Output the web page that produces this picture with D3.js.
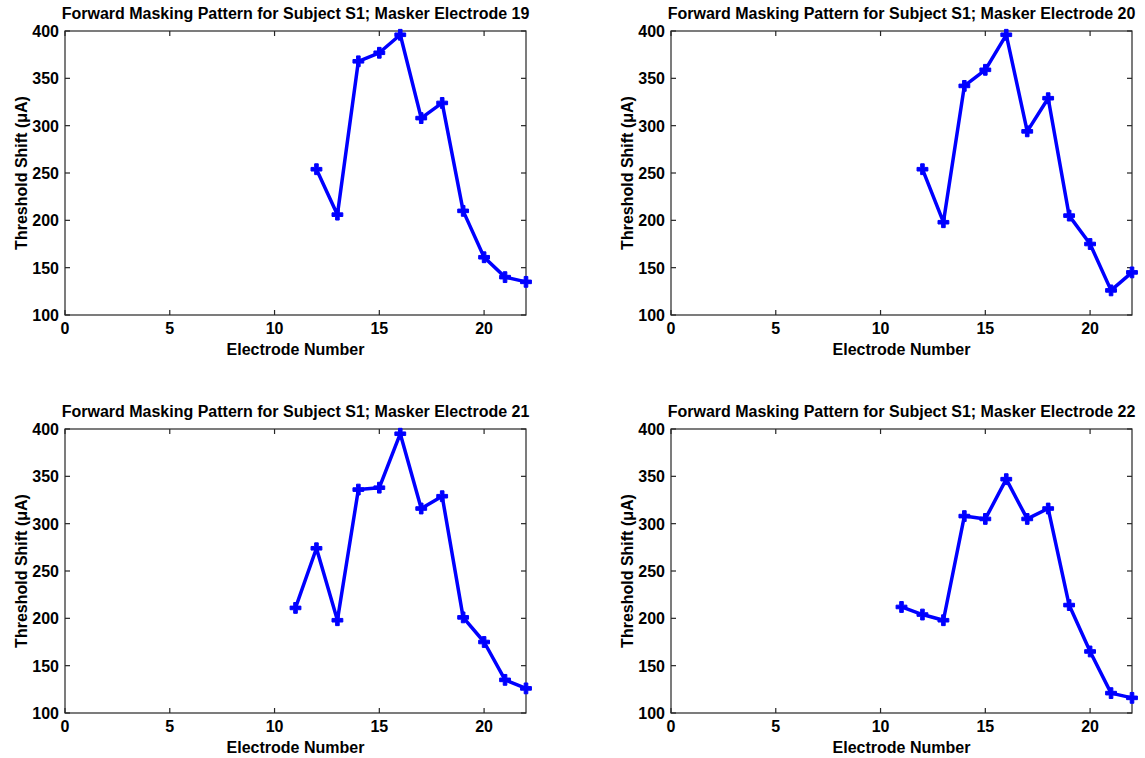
<!DOCTYPE html>
<html>
<head>
<meta charset="utf-8">
<script src="https://cdn.jsdelivr.net/npm/d3@7"></script>
<style>
  body { margin: 0; background: #fff; }
  svg text { font-family: "Liberation Sans", Arial, Helvetica, sans-serif; font-weight: bold; fill: #000; }
</style>
</head>
<body>
<svg id="chart" width="1145" height="758"></svg>
<script>
// masker electrodes, one panel each
const maskers = [19, 20, 21, 22];

// probe electrodes and threshold shifts (uA)
const probes19 = [12, 13, 14, 15, 16, 17, 18, 19, 20, 21, 22];
const shift19 = [254, 206, 368, 377, 396, 308, 324, 210, 161, 140, 135];

const probes20 = [12, 13, 14, 15, 16, 17, 18, 19, 20, 21, 22];
const shift20 = [254, 198, 342, 359, 396, 294, 329, 205, 175, 126, 145];

const probes21 = [11, 12, 13, 14, 15, 16, 17, 18, 19, 20, 21, 22];
const shift21 = [211, 274, 198, 336, 338, 395, 316, 329, 201, 175, 135, 126];

const probes22 = [11, 12, 13, 14, 15, 16, 17, 18, 19, 20, 21, 22];
const shift22 = [212, 204, 198, 308, 305, 347, 305, 316, 214, 165, 121, 116];

const xTicks = [0, 5, 10, 15, 20];
const yTicks = [100, 150, 200, 250, 300, 350, 400];

const series = [
  { probes: probes19, shift: shift19 },
  { probes: probes20, shift: shift20 },
  { probes: probes21, shift: shift21 },
  { probes: probes22, shift: shift22 }
];

const svg = d3.select("#chart");

// panel boxes (left, top) on a 2x2 grid
const boxes = [
  { left: 65, top: 31 },
  { left: 671, top: 31 },
  { left: 65, top: 429 },
  { left: 671, top: 429 }
];
const pw = 461, ph = 284;
const blue = "#0000ff";
const axisColor = "#262626";

maskers.forEach((m, i) => {
  const b = boxes[i];
  const s = series[i];
  const g = svg.append("g").attr("transform", `translate(${b.left},${b.top})`);

  const x = d3.scaleLinear().domain([0, 22]).range([0, pw]);
  const y = d3.scaleLinear().domain([100, 400]).range([ph, 0]);

  // box
  g.append("rect")
    .attr("x", 0).attr("y", 0).attr("width", pw).attr("height", ph)
    .attr("fill", "none").attr("stroke", axisColor).attr("stroke-width", 1.2);

  // ticks, inward on all four sides
  const tl = 5;
  xTicks.forEach(t => {
    g.append("line").attr("x1", x(t)).attr("x2", x(t)).attr("y1", ph).attr("y2", ph - tl)
      .attr("stroke", axisColor).attr("stroke-width", 1.2);
    g.append("line").attr("x1", x(t)).attr("x2", x(t)).attr("y1", 0).attr("y2", tl)
      .attr("stroke", axisColor).attr("stroke-width", 1.2);
    g.append("text").attr("x", x(t)).attr("y", ph + 19)
      .attr("text-anchor", "middle").attr("font-size", 16).text(t);
  });
  yTicks.forEach(t => {
    g.append("line").attr("x1", 0).attr("x2", tl).attr("y1", y(t)).attr("y2", y(t))
      .attr("stroke", axisColor).attr("stroke-width", 1.2);
    g.append("line").attr("x1", pw).attr("x2", pw - tl).attr("y1", y(t)).attr("y2", y(t))
      .attr("stroke", axisColor).attr("stroke-width", 1.2);
    g.append("text").attr("x", -6).attr("y", y(t) + 6)
      .attr("text-anchor", "end").attr("font-size", 16).text(t);
  });

  // title and axis labels
  g.append("text").attr("x", pw / 2).attr("y", -12)
    .attr("text-anchor", "middle").attr("font-size", 16)
    .text(`Forward Masking Pattern for Subject S1; Masker Electrode ${m}`);
  g.append("text").attr("x", pw / 2).attr("y", ph + 40)
    .attr("text-anchor", "middle").attr("font-size", 16)
    .text("Electrode Number");
  g.append("text")
    .attr("transform", `translate(${-38},${ph / 2}) rotate(-90)`)
    .attr("text-anchor", "middle").attr("font-size", 16)
    .text("Threshold Shift (\u03bcA)");

  const pts = s.probes.map((p, j) => [p, s.shift[j]]);
  const line = d3.line().x(d => x(d[0])).y(d => y(d[1]));

  g.append("path").datum(pts)
    .attr("d", line)
    .attr("fill", "none").attr("stroke", blue)
    .attr("stroke-width", 3.5).attr("stroke-linejoin", "round");

  const sym = d3.symbol().type(d3.symbolCross).size(65);
  g.selectAll(".mk").data(pts).join("path")
    .attr("class", "mk")
    .attr("transform", d => `translate(${x(d[0])},${y(d[1])})`)
    .attr("d", sym)
    .attr("fill", blue).attr("stroke", blue).attr("stroke-width", 1);
});
</script>
</body>
</html>
